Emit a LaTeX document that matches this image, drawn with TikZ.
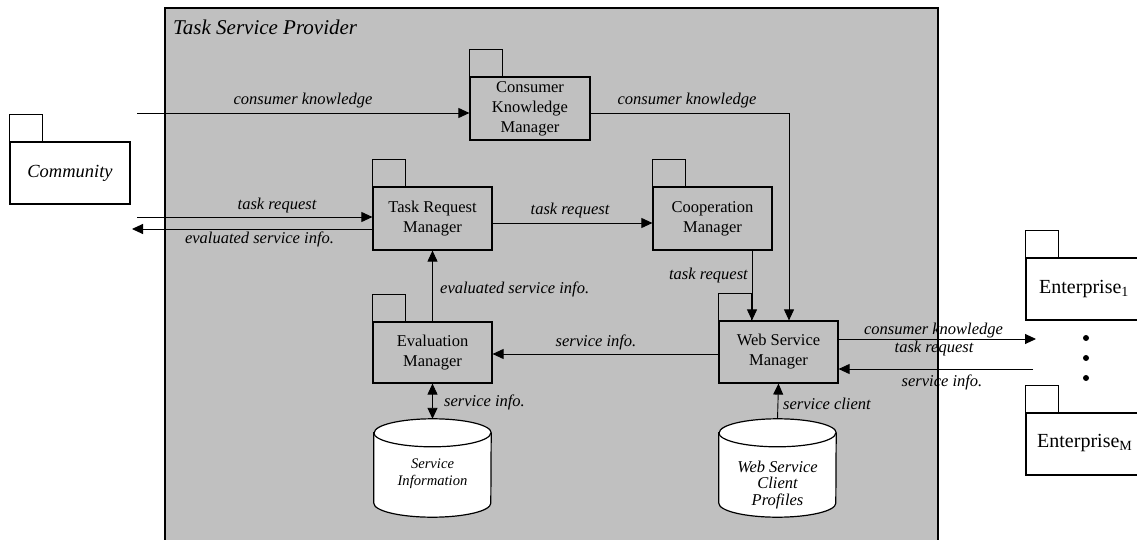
\documentclass[tikz,border=0pt]{standalone}
\usepackage{fontspec}
\setmainfont{Liberation Serif}
\usetikzlibrary{arrows.meta,calc}

\definecolor{provgray}{RGB}{192,192,192}

\tikzset{
  pkg/.style={draw, line width=1.2pt, fill=provgray, minimum width=119pt, minimum height=62pt,
    inner sep=0pt, align=center, font=\fontsize{16.5}{20}\selectfont},
  extpkg/.style={pkg, fill=white},
  tab/.style={draw, line width=1.2pt},
  cylnode/.style={inner sep=0pt, minimum width=117pt, minimum height=98pt, align=center},
  arr/.style={line width=0.9pt, -{Triangle[length=11pt,width=10pt]}},
  darr/.style={line width=0.9pt, {Triangle[length=11pt,width=10pt]}-{Triangle[length=11pt,width=10pt]}},
  lbl/.style={inner sep=0pt, font=\fontsize{16.5}{20}\selectfont\itshape},
}

\begin{document}
\begin{tikzpicture}[x=1pt,y=1pt]
\useasboundingbox (0,0) rectangle (1137,-540);

% provider container (open at the bottom)
\fill[provgray] (165,-8) rectangle (938,-540);
\draw[line width=1.5pt] (165,-540) -- (165,-8) -- (938,-8) -- (938,-540);
\node[anchor=west, inner sep=0pt, font=\fontsize{21}{24}\selectfont\itshape] (title) at (173,-27) {Task Service Provider};

% packages inside the provider
\node[pkg, minimum width=120pt, minimum height=63pt] (ckm) at (530,-108.5) {Consumer\\Knowledge\\Manager};
\node[pkg, minimum height=63pt] (trm) at (432.5,-218.5) {Task Request\\Manager};
\node[pkg, minimum height=63pt] (cm) at (712.5,-218.5) {Cooperation\\Manager};
\node[pkg, minimum height=61pt] (em) at (432.5,-352.5) {Evaluation\\Manager};
\node[pkg] (wsm) at (778.5,-352) {Web Service\\Manager};
\foreach \n in {ckm,trm,cm,em,wsm}
  \draw[tab, fill=provgray] (\n.north west) rectangle ++(33,27);

% external packages
\node[extpkg, minimum width=120pt, font=\fontsize{18.5}{22}\selectfont\itshape] (com) at (70,-173) {Community};
\node[extpkg, minimum width=130pt] (ent1) at (1091,-289) {};
\node[extpkg, minimum width=130pt] (entm) at (1091,-444) {};
\foreach \n in {com,ent1,entm}
  \draw[tab, fill=white] (\n.north west) rectangle ++(33,27);
\node[anchor=west, inner sep=0pt, font=\fontsize{20}{24}\selectfont] (ent1t) at (1039,-289) {Enterprise\textsubscript{1}};
\node[anchor=west, inner sep=0pt, font=\fontsize{20}{24}\selectfont] (entmt) at (1037,-443) {Enterprise\textsubscript{M}};
\foreach \y in {-338,-358,-378}
  \fill (1086,\y) circle (3pt);

% data stores
\node[cylnode] (si) at (432.5,-468) {};
\node[cylnode] (wscp) at (777.5,-468) {};
\foreach \n in {si,wscp}{
  \draw[line width=1.2pt, fill=white] ($(\n.north west)+(0,-14)$) -- ($(\n.south west)+(0,14)$)
    arc[start angle=180, end angle=360, x radius=58.5, y radius=14]
    -- ($(\n.north east)+(0,-14)$)
    arc[start angle=0, end angle=180, x radius=58.5, y radius=14] -- cycle;
  \draw[line width=1.2pt] ($(\n.north west)+(0,-14)$)
    arc[start angle=180, end angle=360, x radius=58.5, y radius=14];
}
\node[inner sep=0pt, align=center, font=\fontsize{14.6}{17}\selectfont\itshape] (sit) at (432.5,-474) {Service\\Information};
\node[inner sep=0pt, align=center, font=\fontsize{16.5}{16.5}\selectfont\itshape] (wscpt) at (777.5,-485) {Web Service\\Client\\Profiles};

% free ends of connectors
\coordinate (cin) at (137,-113);
\coordinate (tin) at (137,-217);
\coordinate (tout) at (132,-229);
\coordinate (ckx) at (789,0);
\coordinate (cmx) at (752,0);
\coordinate (y223) at (0,-223);
\coordinate (y354) at (0,-354);
\coordinate (eout) at (1036,-339);
\coordinate (ein) at (1033,-369);

% connectors
\draw[arr] (cin) -- (cin -| ckm.west);
\draw[arr] (ckm.east |- cin) -| (wsm.north -| ckx);
\draw[arr] (tin) -- (tin -| trm.west);
\draw[arr] (trm.west |- tout) -- (tout);
\draw[arr] (trm.east |- y223) -- (cm.west |- y223);
\draw[arr] (cm.south -| cmx) -- (wsm.north -| cmx);
\draw[arr] (em.north) -- (trm.south);
\draw[arr] (wsm.west |- y354) -- (em.east |- y354);
\draw[darr] (em.south) -- (si.north);
\draw[arr] (wscp.north) -- (wsm.south);
\draw[arr] (wsm.east |- eout) -- (eout);
\draw[arr] (ein) -- (wsm.east |- ein);

% connector labels
\node[lbl] at (303,-101) {consumer knowledge};
\node[lbl] at (687,-101) {consumer knowledge};
\node[lbl] at (277,-206) {task request};
\node[lbl] at (259.5,-239) {evaluated service info.};
\node[lbl] at (570,-211) {task request};
\node[lbl, anchor=west] at (440,-289) {evaluated service info.};
\node[lbl, anchor=east] at (748,-276) {task request};
\node[lbl] at (596,-342) {service info.};
\node[lbl, anchor=west] at (444,-402) {service info.};
\node[lbl, anchor=west] at (783,-404) {service client};
\node[lbl] at (933.5,-331) {consumer knowledge};
\node[lbl] at (934,-349) {task request};
\node[lbl] at (942,-382) {service info.};
\end{tikzpicture}
\end{document}
